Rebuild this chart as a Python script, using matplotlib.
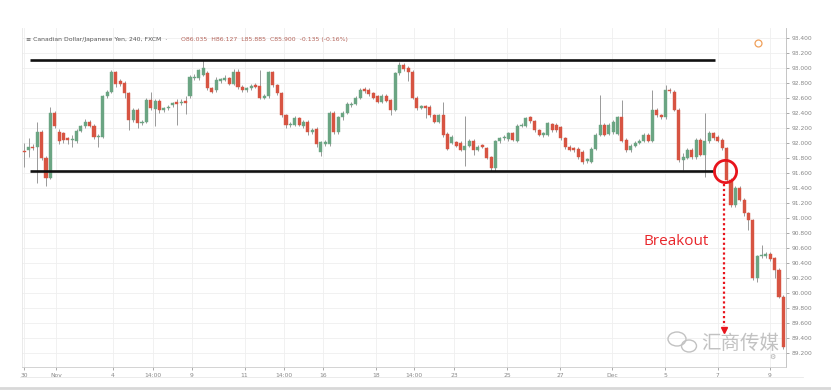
import numpy as np
import matplotlib
matplotlib.use("Agg")
import matplotlib.pyplot as plt
from matplotlib.patches import Ellipse
from matplotlib.lines import Line2D

# CAD/JPY 4H candles
opens = [
    91.89, 91.91, 91.95, 91.94, 92.15, 91.80, 91.53, 92.40, 92.15, 92.13,
    92.06, 92.04, 92.03, 92.16, 92.22, 92.28, 92.23, 92.08, 92.08, 92.62,
    92.68, 92.94, 92.82, 92.80, 92.66, 92.31, 92.44, 92.27, 92.28, 92.57,
    92.45, 92.56, 92.44, 92.46, 92.50, 92.54, 92.53, 92.56, 92.62, 92.86,
    92.86, 92.91, 92.93, 92.73, 92.70, 92.83, 92.84, 92.86, 92.79, 92.94,
    92.75, 92.70, 92.73, 92.77, 92.76, 92.60, 92.62, 92.94, 92.77, 92.66,
    92.37, 92.24, 92.24, 92.33, 92.22, 92.28, 92.15, 92.19, 91.88, 91.98,
    91.98, 92.40, 92.14, 92.34, 92.40, 92.50, 92.52, 92.60, 92.72, 92.71,
    92.66, 92.62, 92.55, 92.63, 92.57, 92.44, 92.93, 93.04, 93.00, 92.95,
    92.60, 92.47, 92.49, 92.48, 92.37, 92.28, 92.37, 92.12, 92.00, 92.01,
    92.00, 91.91, 91.96, 92.03, 91.91, 91.97, 91.93, 91.81, 91.66, 92.02,
    92.06, 92.05, 92.13, 92.03, 92.23, 92.23, 92.34, 92.29, 92.17, 92.10,
    92.11, 92.25, 92.24, 92.21, 92.06, 91.95, 91.93, 91.92, 91.88, 91.76,
    91.75, 91.92, 92.11, 92.24, 92.12, 92.14, 92.12, 92.34, 92.04, 91.90,
    91.96, 92.00, 92.03, 92.11, 92.03, 92.44, 92.37, 92.34, 92.70, 92.68,
    92.44, 91.77, 91.80, 91.91, 91.81, 92.04, 91.84, 92.02, 92.13, 92.08,
    92.04, 91.93, 91.51, 91.17, 91.40, 91.24, 91.06, 90.97, 90.20, 90.49,
    90.49, 90.52, 90.46, 90.31, 89.95,
]
highs = [
    92.00, 92.07, 91.98, 92.28, 92.17, 91.82, 92.48, 92.42, 92.18, 92.15,
    92.08, 92.11, 92.19, 92.24, 92.32, 92.30, 92.25, 92.12, 92.64, 92.70,
    92.97, 92.96, 92.85, 92.82, 92.68, 92.47, 92.46, 92.31, 92.60, 92.68,
    92.58, 92.58, 92.48, 92.50, 92.55, 92.58, 92.58, 92.62, 92.90, 92.92,
    92.99, 93.11, 92.96, 92.75, 92.88, 92.87, 92.90, 92.88, 92.98, 92.98,
    92.77, 92.75, 92.78, 92.80, 92.97, 92.65, 92.96, 92.96, 92.79, 92.68,
    92.39, 92.28, 92.36, 92.35, 92.30, 92.30, 92.20, 92.21, 92.03, 92.04,
    92.42, 92.43, 92.36, 92.42, 92.54, 92.54, 92.63, 92.73, 92.74, 92.73,
    92.68, 92.64, 92.65, 92.65, 92.59, 92.95, 93.08, 93.07, 93.03, 92.97,
    92.62, 92.51, 92.51, 92.50, 92.39, 92.39, 92.55, 92.14, 92.10, 92.03,
    92.02, 92.36, 92.05, 92.05, 91.97, 91.99, 91.95, 91.83, 92.04, 92.08,
    92.10, 92.15, 92.15, 92.25, 92.27, 92.35, 92.36, 92.31, 92.19, 92.15,
    92.28, 92.27, 92.26, 92.23, 92.08, 91.97, 91.95, 91.94, 91.90, 91.80,
    91.94, 92.13, 92.64, 92.26, 92.27, 92.31, 92.36, 92.57, 92.06, 91.98,
    92.02, 92.05, 92.13, 92.13, 92.71, 92.46, 92.39, 92.77, 92.73, 92.70,
    92.46, 91.87, 91.93, 91.93, 92.06, 92.06, 92.40, 92.16, 92.15, 92.10,
    92.06, 91.95, 91.53, 91.42, 91.42, 91.26, 91.08, 90.99, 90.51, 90.64,
    90.54, 90.54, 90.48, 90.33, 89.97,
]
lows = [
    91.68, 91.81, 91.90, 91.47, 91.77, 91.42, 91.52, 92.20, 91.99, 92.00,
    91.99, 91.95, 92.00, 92.14, 92.20, 92.21, 92.05, 91.95, 92.06, 92.60,
    92.66, 92.75, 92.76, 92.60, 92.17, 92.28, 92.20, 92.24, 92.26, 92.44,
    92.22, 92.40, 92.41, 92.44, 92.48, 92.24, 92.51, 92.38, 92.60, 92.84,
    92.84, 92.89, 92.70, 92.66, 92.68, 92.80, 92.82, 92.77, 92.77, 92.72,
    92.68, 92.68, 92.71, 92.73, 92.58, 92.58, 92.60, 92.75, 92.64, 92.35,
    92.20, 92.21, 92.22, 92.22, 92.20, 92.11, 92.12, 91.94, 91.82, 91.96,
    91.96, 92.12, 92.12, 92.31, 92.38, 92.48, 92.50, 92.58, 92.67, 92.63,
    92.58, 92.53, 92.53, 92.54, 92.37, 92.42, 92.91, 92.96, 92.82, 92.58,
    92.44, 92.45, 92.33, 92.35, 92.26, 92.26, 92.08, 91.90, 91.98, 91.94,
    91.89, 91.69, 91.94, 91.84, 91.89, 91.93, 91.78, 91.62, 91.63, 92.00,
    92.04, 92.03, 92.02, 92.01, 92.21, 92.21, 92.27, 92.15, 92.09, 92.08,
    92.09, 92.15, 92.15, 92.04, 91.92, 91.89, 91.88, 91.79, 91.72, 91.73,
    91.73, 91.90, 92.09, 92.09, 92.10, 92.12, 92.10, 92.01, 91.88, 91.88,
    91.94, 91.98, 92.01, 92.01, 92.01, 92.35, 92.32, 92.32, 92.67, 92.42,
    91.75, 91.64, 91.78, 91.79, 91.79, 91.82, 91.55, 92.00, 92.04, 92.01,
    91.91, 91.49, 91.14, 91.15, 91.22, 91.03, 90.84, 90.17, 90.15, 90.47,
    90.47, 90.43, 90.20, 89.93, 89.26,
]
closes = [
    91.88, 91.95, 91.93, 92.15, 91.80, 91.53, 92.40, 92.22, 92.02, 92.04,
    92.04, 92.04, 92.16, 92.22, 92.28, 92.23, 92.08, 92.09, 92.62, 92.68,
    92.94, 92.78, 92.78, 92.66, 92.31, 92.44, 92.27, 92.28, 92.57, 92.46,
    92.56, 92.44, 92.46, 92.48, 92.53, 92.52, 92.55, 92.53, 92.88, 92.88,
    92.97, 93.00, 92.73, 92.68, 92.84, 92.85, 92.86, 92.79, 92.94, 92.75,
    92.71, 92.73, 92.76, 92.75, 92.60, 92.63, 92.94, 92.77, 92.66, 92.37,
    92.24, 92.25, 92.33, 92.24, 92.28, 92.14, 92.17, 91.98, 92.01, 92.01,
    92.40, 92.14, 92.34, 92.40, 92.52, 92.51, 92.60, 92.71, 92.69, 92.65,
    92.60, 92.55, 92.63, 92.56, 92.44, 92.93, 93.04, 92.99, 92.95, 92.60,
    92.46, 92.49, 92.47, 92.37, 92.28, 92.37, 92.11, 91.92, 92.08, 91.96,
    91.91, 91.96, 92.03, 91.91, 91.95, 91.95, 91.80, 91.66, 92.02, 92.06,
    92.07, 92.13, 92.04, 92.23, 92.24, 92.33, 92.29, 92.17, 92.11, 92.13,
    92.26, 92.17, 92.17, 92.06, 91.94, 91.91, 91.90, 91.81, 91.75, 91.78,
    91.92, 92.11, 92.24, 92.11, 92.24, 92.28, 92.34, 92.03, 91.90, 91.96,
    92.00, 92.03, 92.11, 92.03, 92.44, 92.37, 92.34, 92.70, 92.69, 92.44,
    91.77, 91.81, 91.91, 91.81, 92.04, 91.84, 92.03, 92.13, 92.06, 92.03,
    91.93, 91.51, 91.17, 91.40, 91.24, 91.06, 90.97, 90.20, 90.49, 90.50,
    90.52, 90.45, 90.31, 89.95, 89.28,
]

resistance = 93.107
support = 91.627
breakout_idx = 161
breakout_target = 89.51

x_tick_labels = ["30", "Nov", "4", "14:00", "9", "11", "14:00", "16", "18",
                 "14:00", "23", "25", "27", "Dec", "5", "7", "9"]
x_tick_pos = [0, 7.3, 20.3, 29.5, 38.4, 50.5, 59.5, 68.4, 80.7,
              89.4, 98.6, 110.7, 122.8, 134.7, 146.9, 159, 170.9]
y_ticks = [93.4, 93.2, 93.0, 92.8, 92.6, 92.4, 92.2, 92.0, 91.8, 91.6, 91.4,
           91.2, 91.0, 90.8, 90.6, 90.4, 90.2, 90.0, 89.8, 89.6, 89.4, 89.2]

UP = "#6ba583"
DOWN = "#d75442"
WICK = "#999999"

W, H = 831, 392
fig = plt.figure(figsize=(W / 100, H / 100), dpi=100)
fig.patch.set_facecolor("white")
ax = fig.add_axes([22 / W, 1 - 367 / H, (786 - 22) / W, (367 - 28) / H])

o = np.array(opens)
h = np.array(highs)
l = np.array(lows)
c = np.array(closes)
x = np.arange(len(o))
colors = np.where(c >= o, UP, DOWN)

ax.vlines(x, l, h, color=WICK, lw=0.7, zorder=2)
ax.bar(x, np.maximum(np.abs(c - o), 0.012), bottom=np.minimum(o, c),
       width=0.7, color=colors, edgecolor=colors, lw=0.3, zorder=3)

# channel lines
ax.plot([1.3, 158.3], [resistance, resistance], color="#111111", lw=1.9, zorder=4,
        solid_capstyle="butt")
ax.plot([1.3, 158.3], [support, support], color="#111111", lw=1.9, zorder=4,
        solid_capstyle="butt")

# breakout marker
ax.plot(breakout_idx - 0.3, support, "o", ms=16, mfc="none", mec="#e8141c", mew=2, zorder=5)
ax.plot([breakout_idx - 0.6, breakout_idx - 0.6], [support - 0.17, breakout_target + 0.05],
        color="#e8141c", lw=1.6, ls=(0, (1, 1.2)), zorder=5)
ax.plot(breakout_idx - 0.6, breakout_target, "v", ms=4.5, color="#e8141c", zorder=5)
ax.text(149.4, 90.69, "Breakout", color="#e8262b", fontsize=11,
        family=["Open Sans", "DejaVu Sans"], ha="center", va="center", zorder=6)

ax.set_xlim(-0.5, 174.6)
ax.set_ylim(89.014, 93.53)
ax.set_xticks(x_tick_pos)
ax.set_xticklabels(x_tick_labels)
ax.set_yticks(y_ticks)
ax.set_yticklabels([f"{v:.3f}" for v in y_ticks])
ax.yaxis.tick_right()
ax.tick_params(axis="both", labelsize=4.3, colors="#888888", length=2, width=0.5, pad=2)
ax.grid(color="#efefef", lw=0.6, zorder=0)
ax.set_axisbelow(True)
ax.spines["top"].set_visible(False)
ax.spines["left"].set_color("#e6e6e6")
ax.spines["right"].set_color("#bbbbbb")
ax.spines["bottom"].set_color("#cccccc")
for s in ax.spines.values():
    s.set_linewidth(0.6)

# header legend
fig.text(26 / W, 1 - 40 / H, "\u2261 Canadian Dollar/Japanese Yen, 240, FXCM  \u00b7",
         fontsize=4.4, color="#555555", va="center", ha="left")
fig.text(181 / W, 1 - 40 / H, "O86.035  H86.127  L85.885  C85.900  -0.135 (-0.16%)",
         fontsize=4.4, color="#b5655b", va="center", ha="left")
ax.plot([0.963], [0.955], "o", transform=ax.transAxes, ms=5, mfc="white",
        mec="#f0a05a", mew=0.9, clip_on=False, zorder=6)

# watermark
fig.text(701 / W, 1 - 343 / H, "汇商传媒", fontsize=14, color="#c2c2c2",
         family=["Noto Sans CJK SC", "DejaVu Sans"], va="center", ha="left")
fig.add_artist(Ellipse((677 / W, 1 - 339 / H), 18 / W, 14 / H, transform=fig.transFigure,
                       fill=False, ec="#c2c2c2", lw=1.0))
fig.add_artist(Ellipse((689 / W, 1 - 346 / H), 15 / W, 12 / H, transform=fig.transFigure,
                       fill=False, ec="#c2c2c2", lw=1.0, fc="white"))
fig.text(772 / W, 1 - 357 / H, "\u2699", fontsize=5, color="#aaaaaa", ha="center", va="center")

# page separators under the chart
fig.add_artist(Line2D([20 / W, 803 / W], [1 - 377 / H, 1 - 377 / H], transform=fig.transFigure,
                      color="#e8e8e8", lw=0.6))
fig.add_artist(Line2D([0, 1], [1 - 388 / H, 1 - 388 / H], transform=fig.transFigure,
                      color="#d8d8d8", lw=2.0))

fig.savefig("out.png", dpi=100)
plt.close(fig)
